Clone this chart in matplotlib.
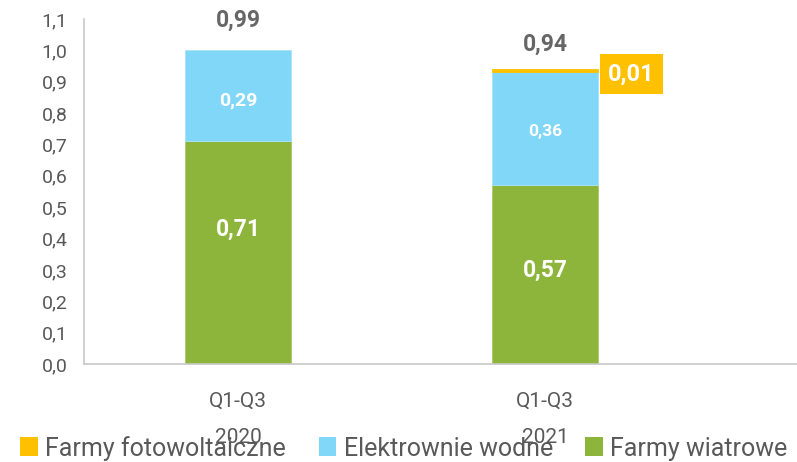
import matplotlib.pyplot as plt
from matplotlib.patches import Patch

plt.rcParams['font.family'] = ['Roboto', 'DejaVu Sans']

categories = ["Q1-Q3\n\n2020", "Q1-Q3\n\n2021"]
wiatrowe = [0.71, 0.57]
wodne = [0.29, 0.36]
foto = [0.00, 0.01]
totals = [0.99, 0.94]

green = "#8DB53B"
blue = "#81D7F8"
orange = "#FFC000"
grey = "#666666"

fig = plt.figure(figsize=(7.97, 4.62), dpi=100)
ax = fig.add_axes([0.1054, 0.2121, 0.8946, 0.7468])

x = [0, 1]
w = 0.345
ax.bar(x, wiatrowe, w, color=green, edgecolor="#a9c96a", linewidth=0.6)
ax.bar(x, wodne, w, bottom=wiatrowe, color=blue, edgecolor="#a8e3fa", linewidth=0.6)
bot2 = [a + b for a, b in zip(wiatrowe, wodne)]
# only draw the solar segment where it is non-zero
fx = [xi for xi, v in zip(x, foto) if v > 0]
fv = [v for v in foto if v > 0]
fb = [b for b, v in zip(bot2, foto) if v > 0]
ax.bar(fx, fv, w, bottom=fb, color=orange, edgecolor=orange, linewidth=0.6)

fmt = lambda v: f"{v:.2f}".replace(".", ",")

# labels inside bars
ax.text(0, 0.43, fmt(wiatrowe[0]), ha="center", va="center", color="white",
        fontsize=16.5, fontweight="bold")
ax.text(1, 0.30, fmt(wiatrowe[1]), ha="center", va="center", color="white",
        fontsize=16.5, fontweight="bold")
ax.text(0, 0.84, fmt(wodne[0]), ha="center", va="center", color="white",
        fontsize=14, fontweight="bold")
ax.text(1, 0.74, fmt(wodne[1]), ha="center", va="center", color="white",
        fontsize=12.5, fontweight="bold")
ax.text(1.28, 0.925, fmt(foto[1]), ha="center", va="center", color="white",
        fontsize=17, fontweight="bold",
        bbox=dict(boxstyle="square,pad=0.35", facecolor=orange, edgecolor="none"))

# totals
ax.text(0, totals[0] + 0.105, fmt(totals[0]), ha="center", va="center", color=grey,
        fontsize=16.5, fontweight="bold")
ax.text(1, totals[1] + 0.08, fmt(totals[1]), ha="center", va="center", color=grey,
        fontsize=16.5, fontweight="bold")

ax.set_xlim(-0.502, 1.82)
ax.set_ylim(0, 1.1)
ax.set_yticks([i / 10 for i in range(12)])
ax.set_yticklabels([f"{i / 10:.1f}".replace(".", ",") for i in range(12)])
ax.set_xticks(x)
ax.set_xticklabels(categories, linespacing=0.95)
ax.tick_params(axis="both", length=0, colors="#595959")
ax.tick_params(axis="y", pad=12, labelsize=14)
ax.tick_params(axis="x", pad=20, labelsize=15)
for s in ["top", "right"]:
    ax.spines[s].set_visible(False)
for s in ["left", "bottom"]:
    ax.spines[s].set_color("#c8c8c8")
    ax.spines[s].set_linewidth(1.2)

handles = [Patch(facecolor=orange, label="Farmy fotowoltaiczne"),
           Patch(facecolor=blue, label="Elektrownie wodne"),
           Patch(facecolor=green, label="Farmy wiatrowe")]
fig.legend(handles=handles, loc="center", bbox_to_anchor=(0.507, 0.03), ncol=3,
           frameon=False, fontsize=18, handlelength=0.7, handleheight=0.8,
           handletextpad=0.3, columnspacing=1.3, labelcolor="#595959",
           borderpad=0.1)

fig.savefig("out.png", dpi=100)
